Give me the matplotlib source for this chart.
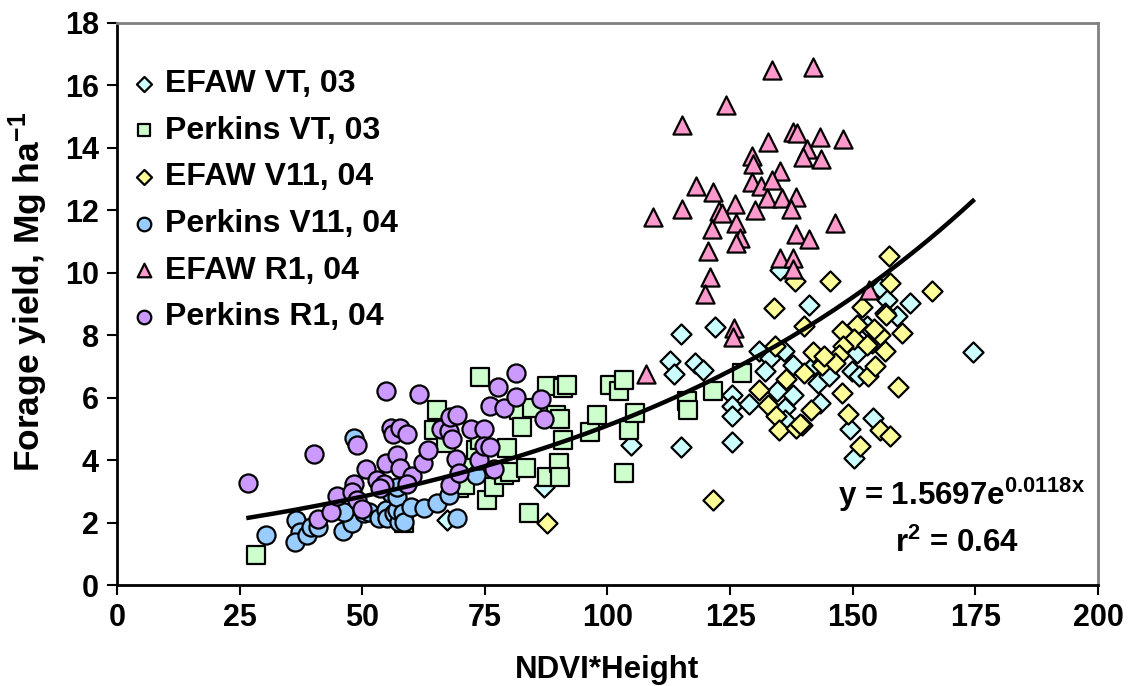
import numpy as np
import matplotlib
matplotlib.use("Agg")
import matplotlib.pyplot as plt

plt.rcParams['font.family'] = ['Liberation Sans', 'DejaVu Sans']
plt.rcParams['font.weight'] = 'bold'
plt.rcParams['mathtext.fontset'] = 'custom'
plt.rcParams['mathtext.rm'] = 'Liberation Sans:bold'
plt.rcParams['mathtext.bf'] = 'Liberation Sans:bold'
plt.rcParams['mathtext.default'] = 'bf'

# EFAW VT, 03
efaw_vt_x = [67.3, 87.0, 104.7, 114.9, 125.4, 114.9, 122.0, 112.8, 113.5, 117.9, 119.5,
             125.4, 125.4, 125.4, 128.8, 130.8, 133.2, 135.9, 132.2, 134.5, 136.2, 137.9,
             137.9, 136.2, 143.0, 145.1, 142.0, 143.4, 149.5, 149.8, 151.2, 150.9, 152.9,
             155.2, 154.1, 150.2, 155.6, 157.0, 159.0, 161.7, 153.9, 156.6, 174.5, 141.0,
             135.2, 57.1]
efaw_vt_y = [2.09, 3.15, 4.47, 4.41, 4.57, 8.05, 8.25, 7.16, 6.77, 7.11, 6.88,
             6.10, 5.72, 5.40, 5.80, 7.49, 7.27, 7.49, 6.84, 6.20, 5.67, 6.10,
             7.06, 5.29, 6.47, 6.68, 7.00, 5.83, 5.00, 6.84, 6.68, 7.43, 8.29,
             8.07, 5.35, 4.06, 9.52, 9.14, 8.61, 9.04, 7.75, 8.72, 7.47, 8.98,
             10.10, 2.40]

# Perkins VT, 03
perk_vt_x = [28.4, 58.5, 65.3, 64.6, 67.0, 69.7, 70.9, 71.8, 73.1, 74.1, 74.0, 75.4,
             76.8, 78.9, 79.5, 80.2, 81.9, 82.6, 83.3, 84.0, 84.6, 87.7, 87.7, 89.5,
             90.4, 90.1, 90.4, 90.9, 91.0, 91.8, 96.5, 97.9, 100.6, 102.3, 103.3, 103.3,
             104.3, 105.7, 116.2, 116.4, 121.6, 127.5]
perk_vt_y = [0.96, 1.99, 5.61, 4.97, 4.55, 3.10, 3.21, 3.80, 4.33, 4.65, 6.66, 2.71,
             3.15, 3.53, 4.38, 3.63, 5.61, 5.06, 3.74, 2.32, 5.67, 6.36, 3.47, 5.45,
             5.33, 3.90, 3.47, 4.65, 6.31, 6.42, 4.89, 5.45, 6.42, 6.20, 6.58, 3.60,
             4.97, 5.51, 5.88, 5.61, 6.22, 6.79]

# EFAW V11, 04
efaw_v11_x = [87.7, 121.6, 157.3, 145.3, 157.6, 166.1, 151.9, 156.8, 150.9, 147.8, 155.6,
              160.0, 150.2, 148.1, 152.9, 147.1, 142.0, 143.7, 146.3, 156.6, 140.0, 153.2,
              154.6, 147.8, 159.3, 141.5, 139.6, 149.1, 155.6, 157.6, 151.5, 138.3, 133.9,
              140.0, 154.4, 134.2, 144.1, 136.4, 130.8, 132.8, 134.4, 134.9, 138.5, 139.3]
efaw_v11_y = [2.00, 2.73, 10.53, 9.73, 9.68, 9.41, 8.91, 8.64, 8.34, 8.15, 8.02,
              8.07, 7.88, 7.66, 7.68, 7.38, 7.47, 7.06, 7.11, 7.49, 6.79, 6.68,
              7.00, 6.14, 6.34, 5.60, 5.13, 5.49, 4.97, 4.76, 4.45, 9.73, 8.88,
              8.30, 8.20, 7.65, 7.33, 6.60, 6.23, 5.75, 5.40, 4.97, 5.03, 5.15]

# Perkins V11, 04
perk_v11_x = [30.3, 36.5, 37.3, 36.3, 38.8, 39.5, 40.9, 46.0, 48.0, 46.3, 48.3, 50.4,
              51.3, 53.4, 54.8, 55.1, 56.5, 57.5, 57.1, 55.8, 57.1, 58.4, 58.5, 59.9,
              62.6, 65.3, 67.7, 69.4, 73.1, 57.1]
perk_v11_y = [1.60, 2.09, 1.71, 1.39, 1.60, 1.87, 1.87, 1.73, 2.00, 2.35, 4.71, 2.30,
              2.35, 2.14, 2.41, 2.14, 2.30, 2.03, 2.41, 2.94, 2.83, 2.30, 2.03, 2.51,
              2.46, 2.62, 2.89, 2.14, 3.53, 3.15]

# EFAW R1, 04
efaw_r1_x = [133.5, 141.8, 124.2, 115.2, 137.8, 138.6, 143.4, 148.0, 132.8, 140.6, 139.8,
             143.6, 129.5, 129.7, 135.2, 129.5, 131.2, 133.5, 118.1, 121.6, 132.5, 135.6,
             138.5, 126.0, 122.7, 123.3, 130.0, 137.4, 115.2, 109.2, 146.3, 126.1, 121.3,
             127.1, 126.3, 138.5, 141.0, 120.5, 135.2, 137.8, 137.8, 121.0, 119.8, 153.4,
             125.7, 125.5, 107.9]
efaw_r1_y = [16.50, 16.58, 15.38, 14.73, 14.51, 14.49, 14.35, 14.28, 14.20, 13.96, 13.72,
             13.63, 13.74, 13.47, 13.26, 12.90, 12.78, 12.96, 12.78, 12.60, 12.41, 12.41,
             12.44, 12.19, 11.98, 11.92, 12.01, 12.05, 12.05, 11.78, 11.58, 11.60, 11.41,
             11.12, 10.96, 11.25, 11.07, 10.69, 10.48, 10.48, 10.13, 9.86, 9.33, 9.44,
             8.24, 7.95, 6.77]

# Perkins R1, 04
perk_r1_x = [26.8, 40.2, 40.9, 43.6, 44.9, 48.3, 48.0, 49.0, 50.0, 48.9, 50.7, 53.1,
             54.4, 53.7, 54.8, 54.8, 55.8, 56.3, 57.1, 57.7, 57.8, 59.2, 60.2, 59.2,
             61.6, 62.4, 63.4, 66.0, 67.7, 67.8, 68.3, 69.4, 67.9, 69.1, 69.7, 72.1,
             73.9, 74.8, 74.8, 76.0, 76.8, 76.0, 77.7, 78.9, 81.3, 81.4, 86.4, 87.0]
perk_r1_y = [3.26, 4.19, 2.11, 2.35, 2.86, 3.24, 2.99, 2.73, 2.43, 4.49, 3.72, 3.37,
             3.23, 3.10, 6.20, 3.92, 5.03, 4.83, 4.17, 3.74, 5.04, 4.83, 3.50, 3.24,
             6.13, 3.92, 4.33, 4.99, 4.92, 5.38, 4.68, 5.45, 3.19, 4.05, 3.58, 5.00,
             4.01, 5.01, 4.44, 4.41, 3.71, 5.74, 6.34, 5.67, 6.80, 6.02, 5.96, 5.33]

# exponential fit
fit_a = 1.5697
fit_b = 0.0118
fit_r2 = 0.64

series = [
    ("EFAW VT, 03", efaw_vt_x, efaw_vt_y, "D", "#CCFFFF", 105),
    ("Perkins VT, 03", perk_vt_x, perk_vt_y, "s", "#CCFFCC", 150),
    ("EFAW V11, 04", efaw_v11_x, efaw_v11_y, "D", "#FFFF99", 105),
    ("Perkins V11, 04", perk_v11_x, perk_v11_y, "o", "#99CCFF", 170),
    ("EFAW R1, 04", efaw_r1_x, efaw_r1_y, "^", "#FF99CC", 170),
    ("Perkins R1, 04", perk_r1_x, perk_r1_y, "o", "#CC99FF", 170),
]

fig = plt.figure(figsize=(11.28, 6.86), dpi=100)
ax = fig.add_axes([0.1037, 0.1472, 0.8697, 0.8193])

for label, xs, ys, mk, col, size in series:
    ax.scatter(xs, ys, marker=mk, s=size, facecolor=col, edgecolor="black",
               linewidths=1.6, label=label, zorder=2)

all_x = np.concatenate([s[1] for s in series])
xx = np.linspace(all_x.min(), all_x.max(), 200)
ax.plot(xx, fit_a * np.exp(fit_b * xx), color="black", lw=3.2, zorder=3)

ax.text(147, 2.9, r"y = %.4fe$^{%.4fx}$" % (fit_a, fit_b), fontsize=22.5,
        fontweight="bold", va="center", ha="left")
ax.text(158.7, 1.35, r"r$^{2}$ = %.2f" % fit_r2, fontsize=22.5,
        fontweight="bold", va="center", ha="left")

ax.set_xlim(0, 200)
ax.set_ylim(0, 18)
ax.set_xticks(range(0, 201, 25))
ax.set_yticks(range(0, 19, 2))
ax.tick_params(direction="out", length=7, width=1.5, labelsize=22, pad=6)
for lbl in ax.get_xticklabels() + ax.get_yticklabels():
    lbl.set_fontweight("bold")

for side in ("left", "bottom"):
    ax.spines[side].set_linewidth(2)
    ax.spines[side].set_color("black")
for side in ("top", "right"):
    ax.spines[side].set_linewidth(2)
    ax.spines[side].set_color("#808080")

ax.set_xlabel("NDVI*Height", fontsize=22.5, fontweight="bold")
ax.set_ylabel(r"Forage yield, Mg ha$^{-1}$", fontsize=25.5, fontweight="bold")
ax.xaxis.set_label_coords(0.5, -0.125)
ax.yaxis.set_label_coords(-0.068, 0.522)

ax.legend(loc="upper left", bbox_to_anchor=(-0.008, 0.952), frameon=False,
          fontsize=23, markerscale=0.75, handletextpad=0.15, labelspacing=0.52,
          borderaxespad=0.2, handlelength=1.0)

fig.savefig("out.png", dpi=100)
